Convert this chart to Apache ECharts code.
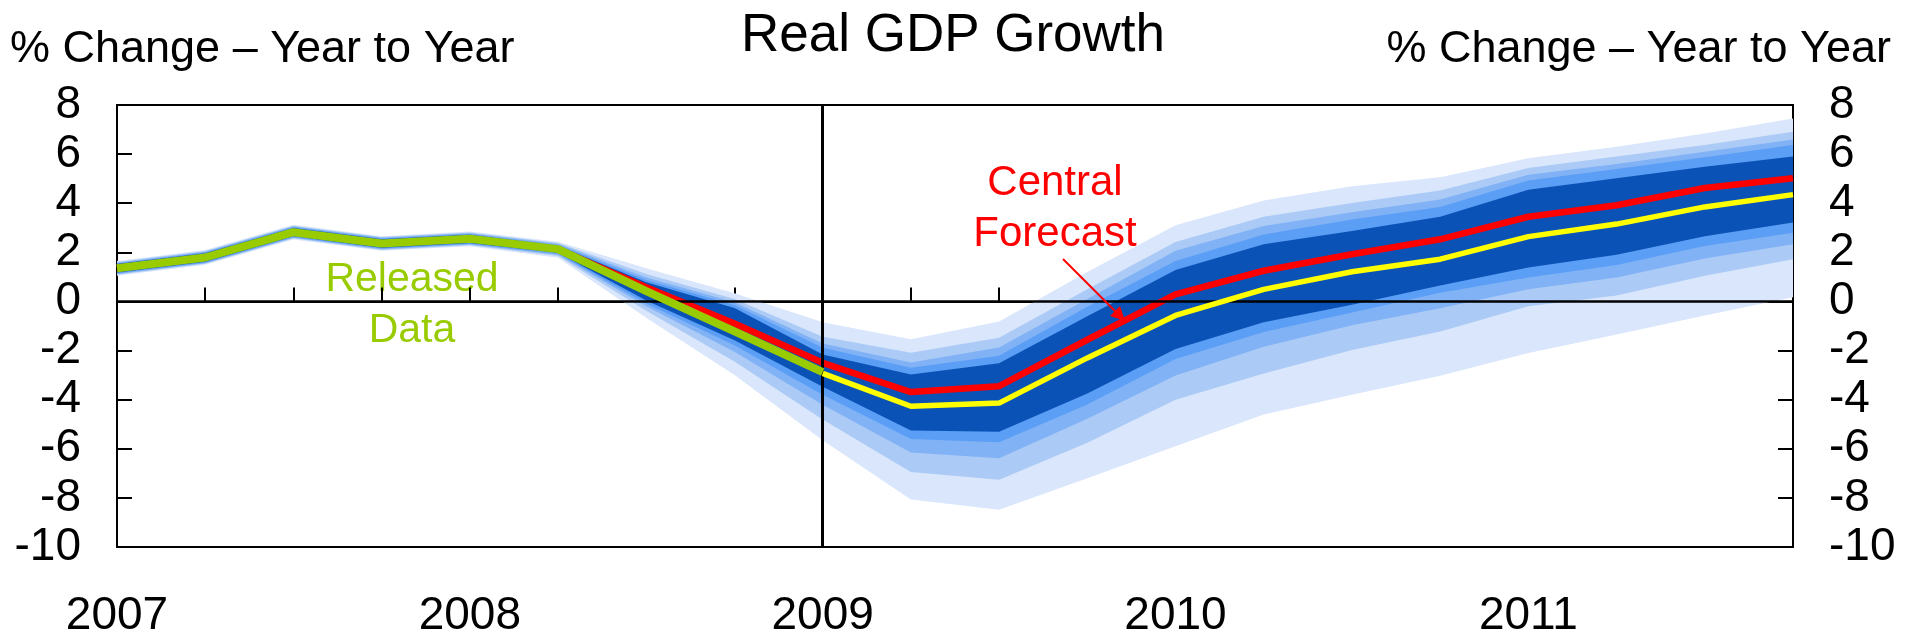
<!DOCTYPE html>
<html>
<head>
<meta charset="utf-8">
<title>Real GDP Growth</title>
<script src="https://cdn.jsdelivr.net/npm/echarts@6/dist/echarts.min.js"></script>
<style>
  html, body { margin: 0; padding: 0; background: #ffffff; }
  #chart { width: 1916px; height: 639px; }
</style>
</head>
<body>
<div id="chart"></div>
<script>
// Quarterly horizon, 2007 Q1 – 2011 Q4
const quarters = [
  '2007 Q1', '2007 Q2', '2007 Q3', '2007 Q4',
  '2008 Q1', '2008 Q2', '2008 Q3', '2008 Q4',
  '2009 Q1', '2009 Q2', '2009 Q3', '2009 Q4',
  '2010 Q1', '2010 Q2', '2010 Q3', '2010 Q4',
  '2011 Q1', '2011 Q2', '2011 Q3', '2011 Q4'
];
const yTicks = { min: -10, max: 8, step: 2 };

// Released data (% change, year to year)
const released = [1.35, 1.79, 2.82, 2.36, 2.55, 2.13, 0.42, -1.22, -2.88];
// Central forecast path
const central = [1.35, 1.79, 2.82, 2.36, 2.55, 2.13, 0.58, -0.90, -2.50, -3.69,
                 -3.45, -1.56, 0.29, 1.25, 1.92, 2.53, 3.45, 3.92, 4.62, 5.02];
// Mean of the forecast distribution
const mean = [null, null, null, null, null, null, null, null, -2.93, -4.27,
              -4.14, -2.30, -0.57, 0.49, 1.21, 1.72, 2.64, 3.15, 3.85, 4.35];

// Fan band edges, outermost (90) to innermost (10)
const hi90 = [1.65, 2.09, 3.12, 2.66, 2.85, 2.43, 1.35, 0.33, -0.85, -1.54,
              -0.82, 1.20, 3.10, 4.11, 4.69, 5.06, 5.83, 6.30, 6.84, 7.45];
const hi70 = [1.61, 2.05, 3.08, 2.62, 2.81, 2.38, 1.12, 0.10, -1.44, -2.09,
              -1.48, 0.50, 2.42, 3.45, 4.01, 4.52, 5.43, 5.90, 6.37, 6.91];
const hi50 = [1.58, 2.02, 3.05, 2.59, 2.78, 2.34, 0.98, -0.03, -1.71, -2.49,
              -1.88, 0.10, 2.06, 3.07, 3.63, 4.15, 5.16, 5.60, 6.10, 6.60];
const hi30 = [1.55, 1.99, 3.02, 2.56, 2.75, 2.30, 0.87, -0.14, -1.89, -2.70,
              -2.21, -0.22, 1.65, 2.73, 3.34, 3.85, 4.93, 5.39, 5.87, 6.37];
const hi10 = [1.52, 1.96, 2.99, 2.53, 2.72, 2.26, 0.78, -0.27, -2.16, -2.98,
              -2.52, -0.60, 1.28, 2.33, 2.87, 3.45, 4.55, 5.02, 5.49, 5.90];
const lo10 = [1.18, 1.62, 2.65, 2.19, 2.38, 1.98, 0.04, -1.58, -3.47, -5.26,
              -5.31, -3.75, -1.94, -0.85, -0.13, 0.65, 1.38, 1.90, 2.66, 3.21];
const lo30 = [1.15, 1.59, 2.62, 2.16, 2.35, 1.94, -0.08, -1.78, -3.80, -5.60,
              -5.73, -4.20, -2.34, -1.24, -0.45, 0.35, 0.98, 1.48, 2.26, 2.80];
const lo50 = [1.12, 1.56, 2.59, 2.13, 2.32, 1.90, -0.20, -2.05, -4.21, -6.15,
              -6.39, -4.78, -3.02, -1.85, -0.97, -0.28, 0.50, 0.98, 1.75, 2.33];
const lo70 = [1.09, 1.53, 2.56, 2.10, 2.29, 1.85, -0.38, -2.45, -4.81, -6.95,
              -7.26, -5.75, -4.00, -2.93, -1.98, -1.22, -0.20, 0.24, 1.05, 1.72];
const lo90 = [1.05, 1.49, 2.52, 2.06, 2.25, 1.78, -0.66, -3.00, -5.65, -8.07,
              -8.48, -7.20, -5.90, -4.60, -3.80, -3.03, -2.10, -1.35, -0.57, 0.17];

const FONT = '"Liberation Sans", Arial, Helvetica, sans-serif';
const BAND_COLORS = ['#d9e6fb', '#abcaf6', '#80b2f5', '#5b9ef5', '#0a52b6'];

// A filled region between two edges, drawn through the axis scales
function band(name, upper, lower, color) {
  return {
    type: 'custom',
    name: name,
    coordinateSystem: 'cartesian2d',
    silent: true,
    z: 1,
    data: upper.map((u, i) => [i, lower[i], u]),
    encode: { x: 0, y: [1, 2] },
    renderItem: function (params, api) {
      if (params.dataIndex !== 0) return null;
      const pts = [];
      for (let i = 0; i < upper.length; i++) pts.push(api.coord([i, upper[i]]));
      for (let i = upper.length - 1; i >= 0; i--) pts.push(api.coord([i, lower[i]]));
      return { type: 'polygon', shape: { points: pts }, style: { fill: color } };
    }
  };
}

function valueAxis(position) {
  return {
    type: 'value',
    position: position,
    min: yTicks.min,
    max: yTicks.max,
    interval: yTicks.step,
    splitLine: { show: false },
    axisLine: { show: true, lineStyle: { color: '#000', width: 2 } },
    axisTick: { show: true, inside: true, length: 15, lineStyle: { color: '#000', width: 2 } },
    axisLabel: { color: '#000', fontSize: 46, fontFamily: FONT, margin: 36 }
  };
}

const chart = echarts.init(document.getElementById('chart'), null, { renderer: 'canvas' });

const textStyle = (txt, x, y, size, color, align) => ({
  type: 'text',
  x: x, y: y,
  silent: true,
  style: {
    text: txt, fill: color, fontSize: size, fontFamily: FONT,
    align: align || 'center', verticalAlign: 'middle'
  }
});

chart.setOption({
  animation: false,
  backgroundColor: '#ffffff',
  grid: {
    left: 117, right: 123, top: 105, bottom: 89,
    show: true, borderColor: '#000', borderWidth: 2, backgroundColor: 'transparent'
  },
  xAxis: {
    type: 'category',
    data: quarters,
    boundaryGap: false,
    axisLine: { show: true, lineStyle: { color: '#000', width: 2 } },
    axisTick: { show: true, inside: true, length: 14, interval: 0, lineStyle: { color: '#000', width: 2 } },
    axisLabel: {
      interval: 3, color: '#000', fontSize: 46, fontFamily: FONT, margin: 46,
      formatter: v => v.slice(0, 4)
    },
    splitLine: { show: false }
  },
  yAxis: [valueAxis('left'), valueAxis('right')],
  series: [
    band('90%', hi90, lo90, BAND_COLORS[0]),
    band('70%', hi70, lo70, BAND_COLORS[1]),
    band('50%', hi50, lo50, BAND_COLORS[2]),
    band('30%', hi30, lo30, BAND_COLORS[3]),
    band('10%', hi10, lo10, BAND_COLORS[4]),
    {
      type: 'line', name: 'zero', data: [], z: 3, silent: true,
      markLine: {
        silent: true, symbol: 'none', label: { show: false },
        lineStyle: { color: '#000', width: 2.5, type: 'solid' },
        data: [{ yAxis: 0 }]
      }
    },
    {
      type: 'line', name: 'Central Forecast', data: central, z: 4,
      symbol: 'none', lineStyle: { color: '#ff0000', width: 6.5 }
    },
    {
      type: 'line', name: 'Mean', data: mean, z: 5,
      symbol: 'none', lineStyle: { color: '#ffff00', width: 5.5 }
    },
    {
      type: 'line', name: 'Released Data', data: released, z: 6,
      symbol: 'none', lineStyle: { color: '#99cc00', width: 8 }
    },
    {
      type: 'line', name: 'forecast start', data: [], z: 7, silent: true,
      markLine: {
        silent: true, symbol: 'none', label: { show: false },
        lineStyle: { color: '#000', width: 3, type: 'solid' },
        data: [{ xAxis: '2009 Q1' }]
      }
    }
  ],
  graphic: [
    textStyle('Real GDP Growth', 953, 36, 53, '#000'),
    textStyle('% Change – Year to Year', 10, 50, 45, '#000', 'left'),
    textStyle('% Change – Year to Year', 1891, 50, 45, '#000', 'right'),
    textStyle('Released', 412, 280, 41, '#99cc00'),
    textStyle('Data', 412, 331, 41, '#99cc00'),
    textStyle('Central', 1055, 183, 42, '#ff0000'),
    textStyle('Forecast', 1055, 234, 42, '#ff0000'),
    textStyle('Mean', 1580, 271, 41, '#ffff00'),
    {
      type: 'line', silent: true, z: 20,
      shape: { x1: 1063, y1: 259, x2: 1116, y2: 312 },
      style: { stroke: '#ff0000', lineWidth: 2 }
    },
    {
      type: 'polygon', silent: true, z: 20,
      shape: { points: [[1125, 321], [1110, 316], [1120, 306]] },
      style: { fill: '#ff0000' }
    }
  ]
});
</script>
</body>
</html>
